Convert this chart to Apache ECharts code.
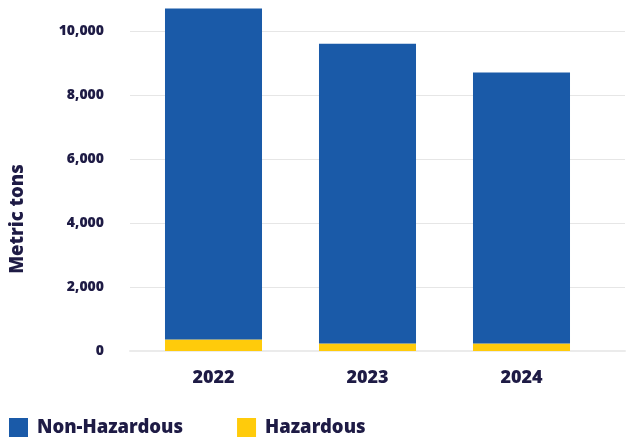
<!DOCTYPE html>
<html><head><meta charset="utf-8">
<script src="https://cdn.jsdelivr.net/npm/echarts@6/dist/echarts.min.js"></script>
<style>html,body{margin:0;padding:0;background:#fff}#c{width:626px;height:441px}</style>
</head><body><div id="c"></div>
<script>
const categories = ['2022', '2023', '2024'];
const nonHazardous = [10340, 9370, 8465];
const hazardous = [360, 235, 235];
const yTicks = [0, 2000, 4000, 6000, 8000, 10000];

const txt = '#1e1b45';
const font = 'Noto Sans';
const fw = 900;
const chart = echarts.init(document.getElementById('c'));
chart.setOption({
  animation: false,
  textStyle: { fontFamily: font },
  grid: [
    { left: 136.5, right: 27.5, top: 31, bottom: 90 },
    { left: 129, right: 1, top: 31, bottom: 90 }
  ],
  xAxis: [
    { gridIndex: 0, type: 'category', data: categories,
      axisLine: { show: false }, axisTick: { show: false },
      axisLabel: { color: txt, fontWeight: fw, fontSize: 18, fontFamily: font, margin: 18 } },
    { gridIndex: 1, type: 'value', show: true, min: 0, max: 1,
      axisLine: { show: true, lineStyle: { color: '#ebebeb', width: 2 } },
      axisTick: { show: false }, axisLabel: { show: false }, splitLine: { show: false } }
  ],
  yAxis: [
    { gridIndex: 0, type: 'value', min: 0, max: yTicks[yTicks.length - 1], show: false, splitLine: { show: false } },
    { gridIndex: 1, type: 'value', min: 0, max: yTicks[yTicks.length - 1], interval: yTicks[1] - yTicks[0],
      name: 'Metric tons', nameLocation: 'middle', nameGap: 103,
      nameTextStyle: { color: txt, fontWeight: fw, fontSize: 18.5, fontFamily: font, padding: [0, 56, 0, 0] },
      axisLine: { show: false }, axisTick: { show: false },
      axisLabel: { color: txt, fontWeight: fw, fontSize: 14, fontFamily: font, margin: 26,
        formatter: v => v.toLocaleString('en-US') },
      splitLine: { lineStyle: { color: '#e6e6e6', width: 1 } } }
  ],
  legend: {
    left: 9, top: 418, padding: 0, itemWidth: 19, itemHeight: 19, itemGap: 54, icon: 'rect',
    textStyle: { color: txt, fontWeight: fw, fontSize: 18.5, fontFamily: font, padding: [0, 0, 0, 4] },
    data: ['Non-Hazardous', 'Hazardous']
  },
  series: [
    { name: 'Hazardous', type: 'bar', stack: 't', xAxisIndex: 0, yAxisIndex: 0, data: hazardous,
      barWidth: '63%', clip: false, itemStyle: { color: '#ffcb0b' } },
    { name: 'Non-Hazardous', type: 'bar', stack: 't', xAxisIndex: 0, yAxisIndex: 0, data: nonHazardous,
      barWidth: '63%', clip: false, itemStyle: { color: '#1a5aa8' } }
  ]
});
</script></body></html>
